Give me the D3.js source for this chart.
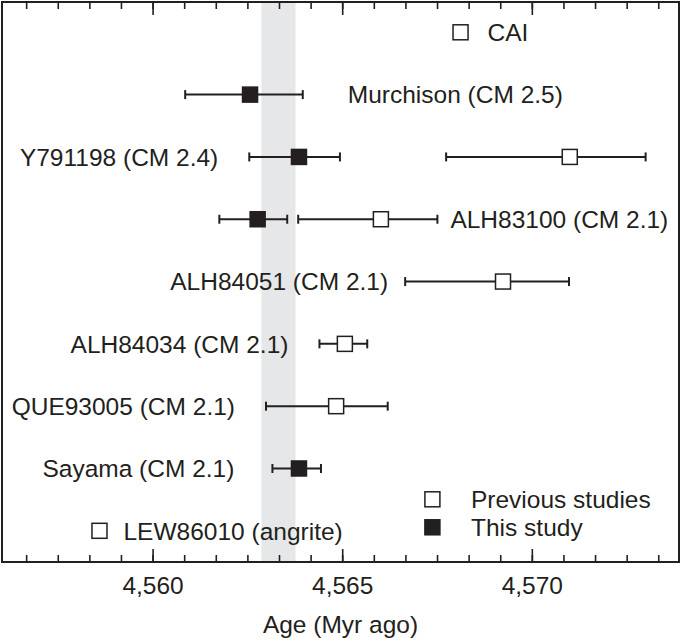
<!DOCTYPE html>
<html>
<head>
<meta charset="utf-8">
<script src="https://cdn.jsdelivr.net/npm/d3@7"></script>
<style>
  body { margin: 0; background: #fff; }
  text { font-family: "Liberation Sans", Arial, Helvetica, sans-serif; fill: #231f20; }
</style>
</head>
<body>
<div id="container"></div>
<script>
let w = 685;
let h = 641;

// rows, top to bottom
let samples = ["CAI", "Murchison (CM 2.5)", "Y791198 (CM 2.4)", "ALH83100 (CM 2.1)",
  "ALH84051 (CM 2.1)", "ALH84034 (CM 2.1)", "QUE93005 (CM 2.1)", "Sayama (CM 2.1)",
  "LEW86010 (angrite)"];

// previous studies (open squares)
let prevSample = ["CAI", "Y791198 (CM 2.4)", "ALH83100 (CM 2.1)", "ALH84051 (CM 2.1)",
  "ALH84034 (CM 2.1)", "QUE93005 (CM 2.1)", "LEW86010 (angrite)"];
let prevAge = [4568.12, 4571.0, 4566.02, 4569.24, 4565.07, 4564.84, 4558.6];
let prevLo  = [null, 4567.74, 4563.84, 4566.66, 4564.40, 4562.99, null];
let prevHi  = [null, 4573.0, 4567.51, 4570.98, 4565.66, 4566.20, null];

// this study (filled squares)
let thisSample = ["Murchison (CM 2.5)", "Y791198 (CM 2.4)", "ALH83100 (CM 2.1)", "Sayama (CM 2.1)"];
let thisAge = [4562.57, 4563.86, 4562.77, 4563.86];
let thisLo  = [4560.86, 4562.55, 4561.76, 4563.16];
let thisHi  = [4563.96, 4564.94, 4563.55, 4564.44];

// shaded age range
let bandRange = [4562.87, 4563.77];

let majorTicks = [4560, 4565, 4570];
let minorStep = 5 / 6;
let legendLabels = ["Previous studies", "This study"];
let xTitle = "Age (Myr ago)";

// label placement: side of the marks and gap in px (layout only)
let labelSide = ["right", "right", "left", "right", "left", "left", "left", "left", "right"];
let labelGap  = [27, 45, 31, 13, 17, 31, 31, 38, 24];

let prev = prevSample.map((s, i) => ({sample: s, age: prevAge[i], lo: prevLo[i], hi: prevHi[i], filled: false}));
let mine = thisSample.map((s, i) => ({sample: s, age: thisAge[i], lo: thisLo[i], hi: thisHi[i], filled: true}));
let allPoints = prev.concat(mine);

let plotLeft = 2, plotRight = 679, plotTop = 2, plotBottom = 562;
let sq = 15;
let ink = "#231f20";

let x = d3.scaleLinear().domain([4556.03, 4573.88]).range([plotLeft, plotRight]);
let y = d3.scalePoint().domain(samples).range([32.3, 530.8]);

let viz = d3.select("#container")
  .append("svg")
    .attr("width", w)
    .attr("height", h)
;

// grey band
viz.append("rect")
  .attr("x", x(bandRange[0]))
  .attr("y", plotTop)
  .attr("width", x(bandRange[1]) - x(bandRange[0]))
  .attr("height", plotBottom - plotTop)
  .attr("fill", "#e6e7e8");

// minor ticks every 5/6 Myr
let minorTicks = d3.range(-4, 17).map(k => 4560 + k * minorStep)
  .filter(v => v > x.domain()[0] && v < x.domain()[1]);

function styleAxis(g){
  g.select(".domain").remove();
  g.selectAll(".tick line").attr("stroke", ink).attr("stroke-width", 1.6);
  return g;
}

viz.append("g").attr("transform", "translate(0," + plotBottom + ")")
  .call(d3.axisBottom(x).tickValues(minorTicks).tickSize(-7).tickFormat(""))
  .call(styleAxis);
viz.append("g").attr("transform", "translate(0," + plotTop + ")")
  .call(d3.axisTop(x).tickValues(minorTicks).tickSize(-7).tickFormat(""))
  .call(styleAxis);
viz.append("g").attr("transform", "translate(0," + plotTop + ")")
  .call(d3.axisTop(x).tickValues(majorTicks).tickSize(-13).tickFormat(""))
  .call(styleAxis);
let bottomMajor = viz.append("g").attr("transform", "translate(0," + plotBottom + ")")
  .call(d3.axisBottom(x).tickValues(majorTicks).tickSize(-13).tickPadding(15).tickFormat(d3.format(",")))
  .call(styleAxis);
bottomMajor.selectAll("text")
  .attr("font-size", "24.5px")
  .attr("font-family", "Liberation Sans, Arial, sans-serif")
  .attr("fill", ink);

// frame
viz.append("rect")
  .attr("x", plotLeft).attr("y", plotTop)
  .attr("width", plotRight - plotLeft).attr("height", plotBottom - plotTop)
  .attr("fill", "none").attr("stroke", ink).attr("stroke-width", 2);

// error bars
let bars = allPoints.filter(d => d.lo != null);
let eb = viz.selectAll(".errbar").data(bars).enter().append("g").attr("class", "errbar");
eb.append("line")
  .attr("x1", d => x(d.lo)).attr("x2", d => x(d.hi))
  .attr("y1", d => y(d.sample)).attr("y2", d => y(d.sample))
  .attr("stroke", ink).attr("stroke-width", 2);
eb.append("line")
  .attr("x1", d => x(d.lo)).attr("x2", d => x(d.lo))
  .attr("y1", d => y(d.sample) - 4.5).attr("y2", d => y(d.sample) + 4.5)
  .attr("stroke", ink).attr("stroke-width", 2);
eb.append("line")
  .attr("x1", d => x(d.hi)).attr("x2", d => x(d.hi))
  .attr("y1", d => y(d.sample) - 4.5).attr("y2", d => y(d.sample) + 4.5)
  .attr("stroke", ink).attr("stroke-width", 2);

// squares
viz.selectAll(".pt").data(allPoints).enter().append("rect")
  .attr("class", "pt")
  .attr("x", d => x(d.age) - sq / 2)
  .attr("y", d => y(d.sample) - sq / 2)
  .attr("width", sq).attr("height", sq)
  .attr("fill", d => d.filled ? ink : "#fff")
  .attr("stroke", ink).attr("stroke-width", 1.5);

// sample labels
viz.selectAll(".lab").data(samples).enter().append("text")
  .attr("class", "lab")
  .attr("font-size", "24.5px")
  .attr("dy", "0.36em")
  .attr("y", d => y(d))
  .attr("text-anchor", (d, i) => labelSide[i] == "left" ? "end" : "start")
  .attr("x", (d, i) => {
    let pts = allPoints.filter(p => p.sample == d);
    if (labelSide[i] == "left"){
      let m = d3.min(pts, p => p.lo != null ? x(p.lo) : x(p.age));
      return m - labelGap[i];
    }
    let m = d3.max(pts, p => p.hi != null ? x(p.hi) : x(p.age));
    return m + labelGap[i];
  })
  .text(d => d);

// legend
let legend = viz.selectAll(".leg").data(legendLabels).enter().append("g")
  .attr("class", "leg")
  .attr("transform", (d, i) => "translate(432.4," + (499.3 + i * 28) + ")");
legend.append("rect")
  .attr("x", -sq / 2).attr("y", -sq / 2)
  .attr("width", sq).attr("height", sq)
  .attr("fill", (d, i) => i == 1 ? ink : "#fff")
  .attr("stroke", ink).attr("stroke-width", 1.5);
legend.append("text")
  .attr("x", 38.6).attr("dy", "0.36em")
  .attr("font-size", "24.5px")
  .text(d => d);

// axis title
viz.append("text")
  .attr("x", (plotLeft + plotRight) / 2).attr("y", 633)
  .attr("text-anchor", "middle")
  .attr("font-size", "24.5px")
  .text(xTitle);
</script>
</body>
</html>
